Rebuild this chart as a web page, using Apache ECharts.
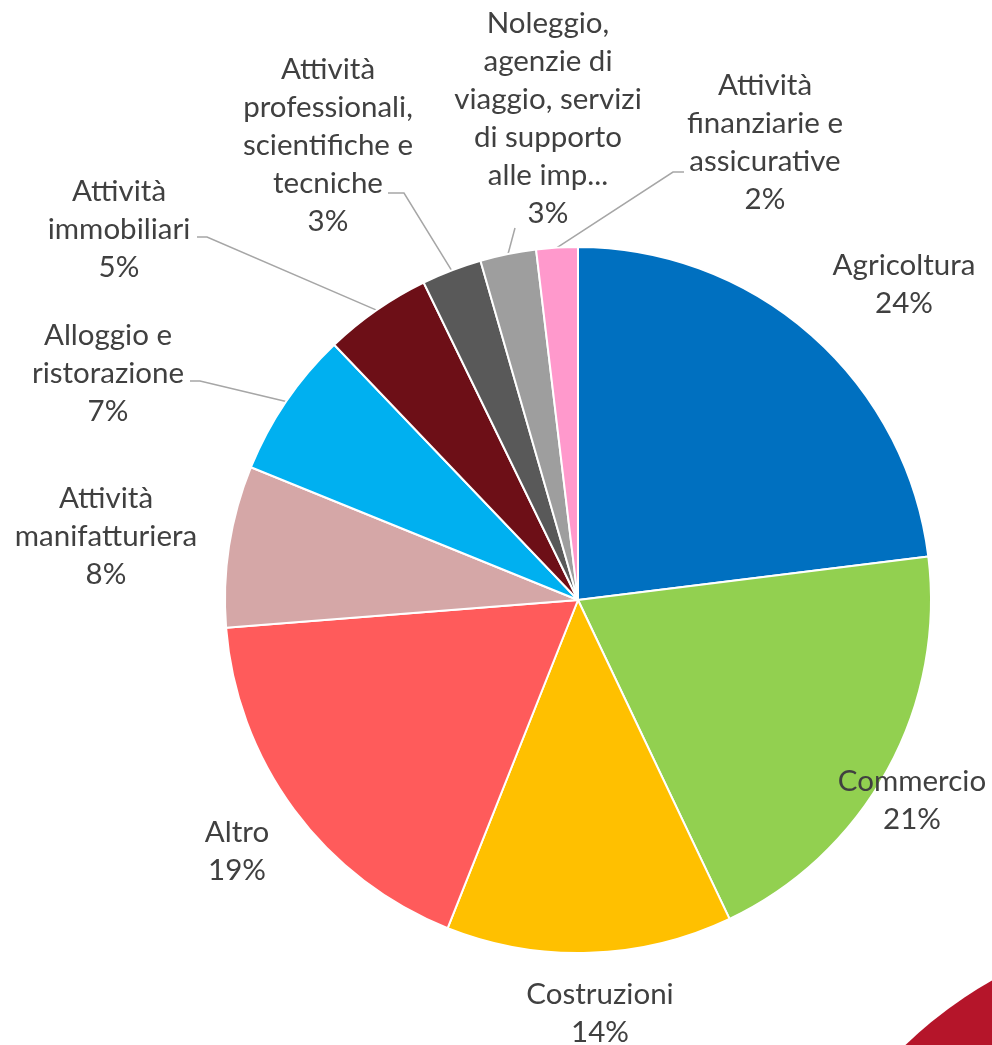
<!DOCTYPE html>
<html><head><meta charset="utf-8">
<script src="https://cdn.jsdelivr.net/npm/echarts@6/dist/echarts.min.js"></script>
<style>html,body{margin:0;padding:0;background:#fff}#c{width:992px;height:1045px}</style>
</head><body><div id="c"></div>
<script>
// ---- data ----
const categories = [
  "Agricoltura",
  "Commercio",
  "Costruzioni",
  "Altro",
  "Attività\nmanifatturiera",
  "Alloggio e\nristorazione",
  "Attività\nimmobiliari",
  "Attività\nprofessionali,\nscientifiche e\ntecniche",
  "Noleggio,\nagenzie di\nviaggio, servizi\ndi supporto\nalle imp...",
  "Attività\nfinanziarie e\nassicurative"
];
const values = [24.3, 21.0, 13.8, 18.7, 7.8, 7.1, 5.2, 2.9, 2.7, 2.0];

// ---- styles / layout (not data) ----
const colors = ["#0070C0","#92D050","#FFC000","#FF5B5B","#D5A7A7","#00B0F0","#6D0F17","#595959","#9E9E9E","#FF99CC"];
// label block centres
const labelPos = [
  [904, 284], [912, 800], [600, 1013], [237, 851], [106, 536],
  [108, 373], [119, 229], [328, 145], [548, 118], [765, 142]
];
// label line: [elbow, end] or null
const leaderPts = [
  null, null, null, null, null,
  [[200, 381], [190, 381]],
  [[207, 237], [197, 237]],
  [[404, 193], [388, 193]],
  [[515, 228]],
  [[673, 172], [684, 172]]
];

const chart = echarts.init(document.getElementById('c'), null, {renderer: 'canvas'});
chart.setOption({
  animation: false,
  backgroundColor: '#ffffff',
  graphic: [{
    type: 'circle', shape: {cx: 1200, cy: 1350, r: 424},
    style: {fill: '#B5152A'}, silent: true, z: 0
  }],
  series: [{
    type: 'pie',
    center: [578, 600],
    radius: [0, 353],
    startAngle: 90,
    clockwise: true,
    avoidLabelOverlap: false,
    itemStyle: {borderColor: '#ffffff', borderWidth: 2},
    label: {
      show: true,
      position: 'outside',
      formatter: p => p.name + '\n' + Math.round(p.value) + '%',
      fontFamily: 'Lato',
      fontSize: 29.5,
      lineHeight: 38,
      color: '#404040',
      align: 'center',
      verticalAlign: 'middle'
    },
    labelLine: {show: true, lineStyle: {color: '#A6A6A6', width: 1.5}},
    labelLayout: function (params) {
      const i = params.dataIndex;
      const res = {x: labelPos[i][0], y: labelPos[i][1], align: 'center', verticalAlign: 'middle'};
      if (leaderPts[i] && params.labelLinePoints) {
        const start = params.labelLinePoints[0];
        const pts = [start].concat(leaderPts[i]);
        if (pts.length === 2) pts.push(leaderPts[i][0]);
        res.labelLinePoints = pts;
      }
      return res;
    },
    data: categories.map((c, i) => ({
      name: c,
      value: values[i],
      itemStyle: {color: colors[i]},
      labelLine: {show: !!leaderPts[i]}
    }))
  }]
});
</script>
</body></html>
